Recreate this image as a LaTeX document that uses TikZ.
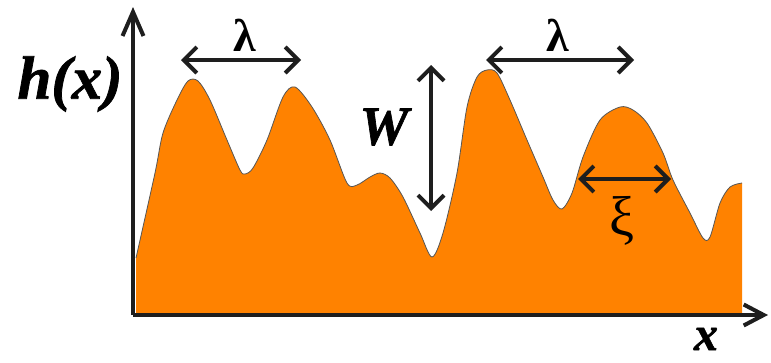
\documentclass[tikz,border=0pt]{standalone}
\usepackage{fontspec}
\setmainfont{Liberation Serif}[BoldFont={Liberation Serif Bold},ItalicFont={Liberation Serif Italic},BoldItalicFont={Liberation Serif Bold Italic}]
\newfontface\heavyitalic{Liberation Serif Bold Italic}[FakeBold=1.2]
\usetikzlibrary{arrows.meta}
\definecolor{surf}{HTML}{FF8200}
\definecolor{ink}{HTML}{1E1E1E}
\tikzset{
  dimarrow/.style={draw=ink, line width=3.4pt, {Straight Barb[length=13pt,width=26pt,line width=4pt]}-{Straight Barb[length=13pt,width=26pt,line width=4pt]}},
  axisline/.style={draw=ink, line width=3.2pt},
  axtip/.style={-{Straight Barb[length=#1,width=21pt,line width=4pt]}},
  lbl/.style={inner sep=0pt, text=black},
}
\begin{document}
\begin{tikzpicture}[x=1pt,y=-1pt]
\useasboundingbox (0,0) rectangle (771,362);
% surface
\fill[surf] (136,313) -- (136,258)
  -- plot[smooth,tension=0.5] coordinates {(136,258) (155,173) (163,133) (177,100) (188,81) (198,81) (210,100) (227,140) (240,170) (245,174) (253,168) (267,140) (283,97) (295,87) (312,107) (330,140) (347,183) (357,185) (370,177) (380,173) (390,178) (403,197) (420,233) (432,257) (443,233) (457,173) (467,107) (477,77) (487,70) (497,73) (510,100) (527,140) (543,177) (553,200) (562,209) (572,193) (583,157) (600,120) (620,107) (633,110) (647,123) (663,153) (673,180) (690,213) (703,238) (710,237) (720,203) (730,187) (742,183)}
  -- (742,313) -- cycle;
\draw[ink!75, line width=0.8pt] plot[smooth,tension=0.5] coordinates {(136,258) (155,173) (163,133) (177,100) (188,81) (198,81) (210,100) (227,140) (240,170) (245,174) (253,168) (267,140) (283,97) (295,87) (312,107) (330,140) (347,183) (357,185) (370,177) (380,173) (390,178) (403,197) (420,233) (432,257) (443,233) (457,173) (467,107) (477,77) (487,70) (497,73) (510,100) (527,140) (543,177) (553,200) (562,209) (572,193) (583,157) (600,120) (620,107) (633,110) (647,123) (663,153) (673,180) (690,213) (703,238) (710,237) (720,203) (730,187) (742,183)};
% axes
\coordinate (o) at (133,315);
\coordinate (ytip) at (133,7);
\coordinate (xtip) at (768,315);
\draw[axisline, axtip=24pt] (o) -- (ytip);
\draw[axisline, axtip=20pt] (o) -- (xtip);
% dimension arrows
\coordinate (l1a) at (181,60); \coordinate (l1b) at (301,60);
\coordinate (l2a) at (486,60); \coordinate (l2b) at (634,60);
\coordinate (wa) at (431,65); \coordinate (wb) at (431,211);
\coordinate (xa) at (578,179); \coordinate (xb) at (671,179);
\draw[dimarrow] (l1a) -- (l1b);
\draw[dimarrow] (l2a) -- (l2b);
\draw[dimarrow] (wa) -- (wb);
\draw[dimarrow] (xa) -- (xb);
% labels
\node[lbl, font=\fontsize{46}{46}\selectfont\bfseries] (lam1) at (245,35) {λ};
\node[lbl, font=\fontsize{46}{46}\selectfont\bfseries] (lam2) at (558,35) {λ};
\node[lbl, font=\heavyitalic\fontsize{55}{55}\selectfont] (w) at (384,127) {W};
\node[lbl, font=\fontsize{56}{56}\selectfont] (xi) at (622,221) {ξ};
\node[lbl, font=\heavyitalic\fontsize{61}{61}\selectfont] (hx) at (70,84) {h(x)};
\node[lbl, font=\heavyitalic\fontsize{48}{48}\selectfont] (xl) at (706,339) {x};
\end{tikzpicture}
\end{document}
